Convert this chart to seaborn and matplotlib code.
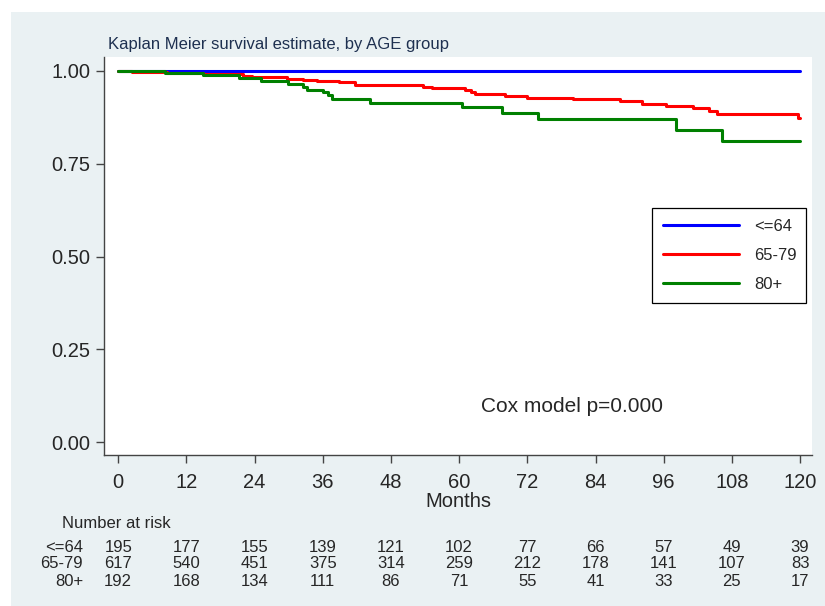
import pandas as pd
import matplotlib
matplotlib.use('Agg')
import matplotlib.pyplot as plt
import matplotlib.transforms as mtransforms
from matplotlib.lines import Line2D
from matplotlib.patches import Rectangle
import seaborn as sns

# Kaplan-Meier step values
groups = ['<=64', '65-79', '80+']

time_le64 = [0, 120]
surv_le64 = [1.0, 1.0]

time_6579 = [0, 2.4, 8.6, 15, 22, 23.5, 29.7, 32.6, 35, 38.8, 41.7, 53.7, 55.2, 59.9,
             61, 62, 62.8, 68.1, 71.9, 80.1, 88.3, 92.1, 96.4, 101.2, 104, 105.3, 119.6, 120]
surv_6579 = [1.0, 0.996, 0.994, 0.993, 0.987, 0.984, 0.979, 0.977, 0.973, 0.970, 0.963, 0.958,
             0.955, 0.953, 0.950, 0.944, 0.937, 0.933, 0.928, 0.924, 0.918, 0.912, 0.905,
             0.899, 0.891, 0.884, 0.872, 0.872]

time_80 = [0, 8.3, 15, 21.3, 25.2, 29.8, 32.5, 33.3, 36.0, 37.0, 37.6, 44.4, 60.5, 67.6,
           73.8, 98.1, 106.2, 120]
surv_80 = [1.0, 0.995, 0.989, 0.981, 0.974, 0.966, 0.958, 0.950, 0.943, 0.934, 0.925, 0.915,
           0.902, 0.888, 0.871, 0.840, 0.810, 0.810]

# Number at risk table
risk_times = [0, 12, 24, 36, 48, 60, 72, 84, 96, 108, 120]
risk_le64 = [195, 177, 155, 139, 121, 102, 77, 66, 57, 49, 39]
risk_6579 = [617, 540, 451, 375, 314, 259, 212, 178, 141, 107, 83]
risk_80 = [192, 168, 134, 111, 86, 71, 55, 41, 33, 25, 17]

colors = {'<=64': '#0000FF', '65-79': '#FF0000', '80+': '#008000'}

df = pd.concat([
    pd.DataFrame({'month': time_le64, 'surv': surv_le64, 'group': '<=64'}),
    pd.DataFrame({'month': time_6579, 'surv': surv_6579, 'group': '65-79'}),
    pd.DataFrame({'month': time_80, 'surv': surv_80, 'group': '80+'}),
], ignore_index=True)

sns.set_style('white')
plt.rcParams['font.family'] = ['Liberation Sans', 'DejaVu Sans']

fig = plt.figure(figsize=(8.25, 6.06), dpi=100, facecolor='white')
# light bluish graph region
fig.patches.append(Rectangle((11 / 825, 0), 1 - 11 / 825, 1 - 12 / 606,
                             transform=fig.transFigure, facecolor='#EAF1F3',
                             edgecolor='none', zorder=-10))

ax = fig.add_axes([104 / 825, 1 - 455 / 606, (812 - 104) / 825, (455 - 57) / 606])
ax.set_facecolor('white')

sns.lineplot(data=df, x='month', y='surv', hue='group', hue_order=groups,
             palette=colors, drawstyle='steps-post', estimator=None, sort=False,
             linewidth=2.2, ax=ax, legend=False)

ax.set_xlim(-2.5, 122.1)
ax.set_ylim(-0.035, 1.0377)
ax.set_xticks(risk_times)
ax.set_yticks([0, 0.25, 0.5, 0.75, 1.0])
ax.set_yticklabels(['0.00', '0.25', '0.50', '0.75', '1.00'])
ax.tick_params(axis='both', labelsize=14.5, length=6, width=1, color='#444444',
               direction='out', bottom=True, left=True)
ax.tick_params(axis='x', pad=7)
ax.tick_params(axis='y', pad=4)
for s in ['top', 'right']:
    ax.spines[s].set_visible(False)
for s in ['left', 'bottom']:
    ax.spines[s].set_color('#444444')
    ax.spines[s].set_linewidth(1)

ax.set_xlabel('Months', fontsize=14.5, labelpad=0)
ax.set_ylabel('')

fig.text(108 / 825, 1 - 45 / 606, 'Kaplan Meier survival estimate, by AGE group',
         fontsize=12, color='#1E3050', ha='left', va='center')

ax.text(572 / 825, 1 - 406 / 606, 'Cox model p=0.000', transform=fig.transFigure,
        fontsize=15, ha='center', va='center')

handles = [Line2D([0], [0], color=colors[g], lw=2.2) for g in groups]
leg = ax.legend(handles, groups, loc='upper left', bbox_to_anchor=(0.774, 0.377, 0.218, 0.244),
                mode='expand', borderaxespad=0, fontsize=12, handlelength=4.6,
                handletextpad=0.9, labelspacing=0.85, borderpad=0.65, fancybox=False,
                framealpha=1)
leg.get_frame().set_edgecolor('black')
leg.get_frame().set_linewidth(0.9)

# Number at risk table
trans = mtransforms.blended_transform_factory(ax.transData, fig.transFigure)
fig.text(62 / 825, 1 - 523 / 606, 'Number at risk', fontsize=12, ha='left', va='center')
rows = [('<=64', risk_le64, 547), ('65-79', risk_6579, 564), ('80+', risk_80, 581)]
for label, counts, ypx in rows:
    fig.text(83 / 825, 1 - ypx / 606, label, fontsize=12, ha='right', va='center')
    for t, n in zip(risk_times, counts):
        ax.text(t, 1 - ypx / 606, str(n), transform=trans, fontsize=12,
                ha='center', va='center', clip_on=False)

fig.savefig('out.png', dpi=100, facecolor=fig.get_facecolor())
